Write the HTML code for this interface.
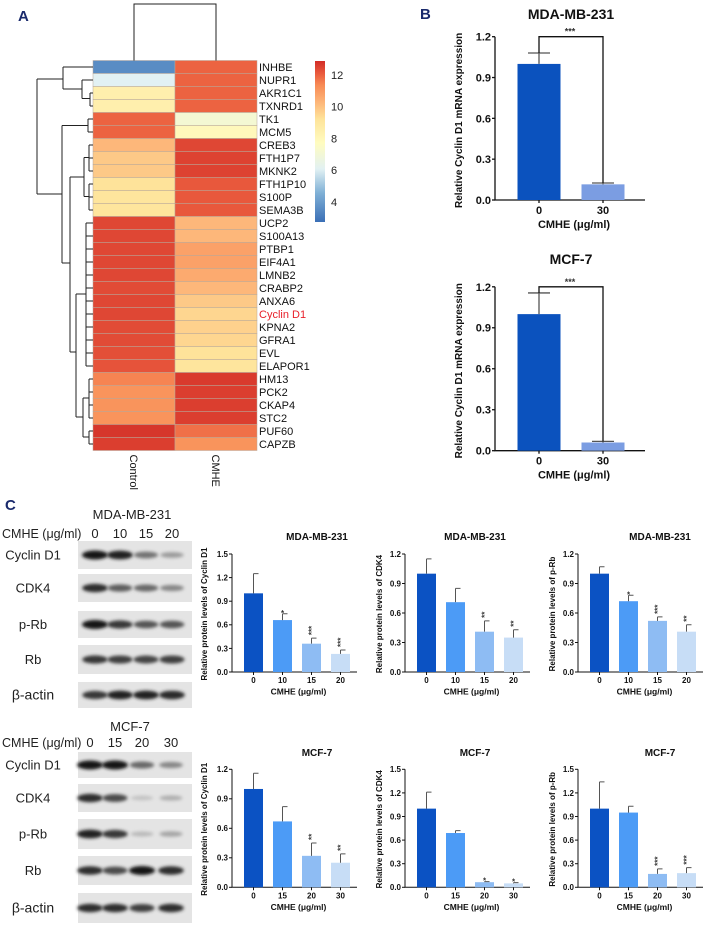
<!DOCTYPE html>
<html><head><meta charset="utf-8"><style>
html,body{margin:0;padding:0;background:#fff;}
svg{display:block;font-family:"Liberation Sans",Arial,sans-serif;}
</style></head><body>
<svg id="fig" width="708" height="928" viewBox="0 0 708 928" xmlns="http://www.w3.org/2000/svg">
<defs>
<linearGradient id="cbar" x1="0" y1="1" x2="0" y2="0">
<stop offset="0" stop-color="#3b6fb6"/><stop offset="0.18" stop-color="#7fb0d6"/><stop offset="0.33" stop-color="#e2f1f3"/><stop offset="0.49" stop-color="#fffcc0"/><stop offset="0.64" stop-color="#fee39a"/><stop offset="0.74" stop-color="#fdb77a"/><stop offset="0.85" stop-color="#f88b55"/><stop offset="0.92" stop-color="#ea5c3e"/><stop offset="1" stop-color="#d22d27"/>
</linearGradient>
<filter id="blur" x="-30%" y="-80%" width="160%" height="260%"><feGaussianBlur stdDeviation="1.6"/></filter>
</defs>
<text x="18" y="21" font-size="15" font-weight="bold" fill="#1a2a6c">A</text>
<text x="420" y="19" font-size="15" font-weight="bold" fill="#1a2a6c">B</text>
<text x="5" y="510" font-size="15" font-weight="bold" fill="#1a2a6c">C</text>
<g id="heat"></g>
<g id="bcharts"></g>
<g id="blots"></g>
<g id="ccharts"></g>
</svg>
<script>
// ---------- Heatmap data ----------
const genes = ['INHBE','NUPR1','AKR1C1','TXNRD1','TK1','MCM5','CREB3','FTH1P7','MKNK2','FTH1P10','S100P','SEMA3B','UCP2','S100A13','PTBP1','EIF4A1','LMNB2','CRABP2','ANXA6','Cyclin D1','KPNA2','GFRA1','EVL','ELAPOR1','HM13','PCK2','CKAP4','STC2','PUF60','CAPZB'];
const controlVals = [3.5,6,8.3,8.3,11.6,11.6,10,9.6,9.6,9,8.9,8.9,12.2,12.2,12.2,12.2,12.2,12.1,12.2,12.2,12.1,12.1,12,11.9,11.1,10.8,10.8,10.8,12.6,12.4];
const cmheVals = [11.6,11.6,11.6,11.6,7,7.8,12.2,12.3,12.3,11.8,11.8,11.8,10,10,10.5,10.5,10.3,10,9.6,9.3,9.4,9.3,9,8.9,12.5,12.4,12.4,12.4,11.4,10.8];
const colorbarTicks = [4,6,8,10,12];

// ---------- B data ----------
const bCats = ['0','30'];
const bMdaVals = [1.0,0.115];
const bMdaErr = [1.08,0.125];
const bMcfVals = [1.0,0.06];
const bMcfErr = [1.155,0.068];
const bTicks = [0,0.3,0.6,0.9,1.2];

// ---------- C data ----------
const cMdaCats = ['0','10','15','20'];
const cMcfCats = ['0','15','20','30'];
const ticks15 = [0,0.3,0.6,0.9,1.2,1.5];
const ticks12 = [0,0.3,0.6,0.9,1.2];
const mdaCycVals = [1.0,0.66,0.36,0.23];
const mdaCycErr = [1.25,0.74,0.43,0.28];
const mdaCycSig = ['','*','***','***'];
const mdaCdkVals = [1.0,0.71,0.41,0.35];
const mdaCdkErr = [1.15,0.85,0.52,0.43];
const mdaCdkSig = ['','','**','**'];
const mdaRbVals = [1.0,0.72,0.52,0.41];
const mdaRbErr = [1.07,0.78,0.56,0.48];
const mdaRbSig = ['','*','***','**'];
const mcfCycVals = [1.0,0.67,0.32,0.25];
const mcfCycErr = [1.16,0.82,0.45,0.34];
const mcfCycSig = ['','','**','**'];
const mcfCdkVals = [1.0,0.69,0.065,0.05];
const mcfCdkErr = [1.21,0.72,0.072,0.06];
const mcfCdkSig = ['','','*','*'];
const mcfRbVals = [1.0,0.95,0.17,0.18];
const mcfRbErr = [1.34,1.03,0.235,0.25];
const mcfRbSig = ['','','***','***'];

// ---------- Blot band intensities (0..1) ----------
const mdaBands = {cyc:[1,0.95,0.55,0.35], cdk:[0.9,0.65,0.6,0.45], prb:[1,0.85,0.7,0.7], rb:[0.85,0.8,0.78,0.8], act:[0.85,0.95,0.95,0.92]};
const mcfBands = {cyc:[1,1,0.6,0.45], cdk:[0.9,0.75,0.15,0.25], prb:[0.95,0.85,0.2,0.3], rb:[0.9,0.75,1,0.9], act:[0.9,0.9,0.8,0.9]};

const NS='http://www.w3.org/2000/svg';
function mk(tag, attrs, parent){const e=document.createElementNS(NS,tag);for(const k in attrs)e.setAttribute(k,attrs[k]);parent.appendChild(e);return e;}

const stops=[[2.7,[59,111,182]],[4.5,[127,176,214]],[6,[226,241,243]],[7.6,[255,252,192]],[9,[254,227,154]],[10,[253,183,122]],[11,[248,139,85]],[11.7,[234,92,62]],[12.8,[210,45,39]]];
function cmap(v){if(v<=stops[0][0])return 'rgb('+stops[0][1]+')';for(let i=1;i<stops.length;i++){if(v<=stops[i][0]){const a=stops[i-1],b=stops[i],t=(v-a[0])/(b[0]-a[0]);return 'rgb('+a[1].map((c,j)=>Math.round(c+(b[1][j]-c)*t)).join(',')+')';}}return 'rgb('+stops[stops.length-1][1]+')';}

// ---------- draw heatmap ----------
(function(){
const g=document.getElementById('heat');
const top=60.5,rh=13.0,x0=93,cw=82;
const rowY=i=>top+rh*i;
const cols=[controlVals,cmheVals];
cols.forEach((arr,c)=>{arr.forEach((v,i)=>{
 const r=mk('rect',{x:x0+c*cw,y:rowY(i),width:cw,height:rh,fill:cmap(v),stroke:'#b8a89a','stroke-width':0.5},g);
 
 
});});
genes.forEach((n,i)=>{
 const t=mk('text',{x:x0+2*cw+2,y:rowY(i)+rh/2+4,'font-size':11,fill:n==='Cyclin D1'?'#e8202a':'#111'},g);
 t.textContent=n;
 
 
});
['Control','CMHE'].forEach((n,c)=>{
 const t=mk('text',{x:0,y:0,'font-size':11,fill:'#111',transform:'translate('+(x0+c*cw+cw/2-4)+','+(top+30*rh+4)+') rotate(90)'},g);
 t.textContent=n;
 
 
});
const cd=mk('path',{d:'M134,60.5V4H216V60.5',fill:'none',stroke:'#222','stroke-width':1},g);


const c=i=>top+rh*(i+0.5);
let d='';
function leaves(a,b,x){d+='M'+x+','+c(a)+'V'+c(b);for(let i=a;i<=b;i++)d+='M'+x+','+c(i)+'H'+x0;}
d+='M37,79V194';
d+='M37,79H63M63,'+c(0)+'V89M63,'+c(0)+'H'+x0+'M63,89H82M82,'+c(1)+'V98.5M82,'+c(1)+'H'+x0+'M82,98.5H90';leaves(2,3,90);
d+='M37,194H62M62,'+c(4.5)+'V263M62,'+c(4.5)+'H88';leaves(4,5,88);
d+='M62,263H70M70,177V352M70,177H84M84,157.5V196.5M84,157.5H89';leaves(6,8,89);d+='M84,196.5H89';leaves(9,11,89);
d+='M70,352H76M76,294V417M76,294H86';leaves(12,23,86);d+='M76,417H83M83,398V437M83,398H89';leaves(24,27,89);d+='M83,437H89';leaves(28,29,89);
const rd=mk('path',{d:d,fill:'none',stroke:'#222','stroke-width':1},g);


const cbTop=61,cbBot=222,vTop=12.88,vBot=2.74;
const cb=mk('rect',{x:315,y:cbTop,width:10,height:cbBot-cbTop,fill:'url(#cbar)'},g);


colorbarTicks.forEach(v=>{
 const y=cbBot-(v-vBot)/(vTop-vBot)*(cbBot-cbTop);
 const t=mk('text',{x:331,y:y+4,'font-size':11,fill:'#222'},g);
 t.textContent=String(v);
 
 
});
})();

// ---------- generic bar chart ----------
function barChart(g,o){
 const ys=v=>o.y0-(v/o.vmax)*(o.y0-o.ytop);
 const ax=mk('path',{d:'M'+o.ax+','+(ys(o.vmax))+'V'+o.y0+'H'+o.axEnd,fill:'none',stroke:'#111','stroke-width':o.lw},g);
 
 
 o.ticks.forEach(v=>{
  const y=ys(v);
  const tk=mk('line',{x1:o.ax-3,x2:o.ax,y1:y,y2:y,stroke:'#111','stroke-width':o.lw},g);
  
  
  const t=mk('text',{x:o.ax-4,y:y+o.tfs*0.36,'font-size':o.tfs,'font-weight':'bold','text-anchor':'end',fill:'#111'},g);
  t.textContent=v.toFixed(1);
  
  
 });
 o.vals.forEach((v,i)=>{
  const cx=o.ax+o.off+i*o.step;
  const b=mk('rect',{x:cx-o.bw/2,y:ys(v),width:o.bw,height:o.y0-ys(v),fill:o.colors[i]},g);
  
  
  const e=mk('path',{d:'M'+cx+','+ys(v)+'V'+ys(o.err[i])+'M'+(cx-(o.symCap?o.cap:0))+','+ys(o.err[i])+'H'+(cx+o.cap),stroke:o.ecol,'stroke-width':o.lw,fill:'none'},g);
  
  
  const tk=mk('line',{x1:cx,x2:cx,y1:o.y0,y2:o.y0+3,stroke:'#111','stroke-width':o.lw},g);
  
  
  const t=mk('text',{x:cx,y:o.y0+o.tfs+3,'font-size':o.tfs,'font-weight':'bold','text-anchor':'middle',fill:'#111'},g);
  t.textContent=o.cats[i];
  
  
  if(o.sig&&o.sig[i]){
   const sy=ys(o.err[i])-3;
   const s=mk('text',{'font-size':8,fill:'#333','font-weight':'bold'},g);
   if(o.sig[i].length>1){s.setAttribute('transform','translate('+(cx+3)+','+sy+') rotate(-90)');s.setAttribute('x',0);s.setAttribute('y',0);}
   else{s.setAttribute('x',cx);s.setAttribute('y',sy+5);s.setAttribute('text-anchor','middle');}
   s.textContent=o.sig[i];
   
   
  }
 });
 const xl=mk('text',{x:(o.ax+o.axEnd)/2+4,y:o.y0+o.tfs+3+o.xfs+3,'font-size':o.xfs,'font-weight':'bold','text-anchor':'middle',fill:'#111'},g);
 xl.textContent='CMHE (μg/ml)';
 
 
 const yl=mk('text',{x:0,y:0,'font-size':o.yfs,'font-weight':'bold','text-anchor':'middle',fill:'#111',transform:'translate('+o.ylx+','+o.yly+') rotate(-90)'},g);
 yl.textContent=o.ylabel;
 
 
 const ti=mk('text',{x:o.tx,y:o.ty,'font-size':o.titfs,'font-weight':'bold','text-anchor':'middle',fill:'#111'},g);
 ti.textContent=o.title;
 
 
 return ys;
}

// ---------- B ----------
(function(){
 const g=document.getElementById('bcharts');
 const defs=[{name:'mda-mrna',title:'MDA-MB-231',vals:bMdaVals,err:bMdaErr,y0:200,ytop:36.7,ty:19},{name:'mcf-mrna',title:'MCF-7',vals:bMcfVals,err:bMcfErr,y0:450.7,ytop:286.8,ty:264}];
 defs.forEach(d=>{
  const sg=mk('g',{},g);
  
  
  const ys=barChart(sg,{name:d.name,vals:d.vals,err:d.err,cats:bCats,ticks:bTicks,vmax:1.2,y0:d.y0,ytop:d.ytop,ax:495,axEnd:645,off:44,step:64,bw:43,colors:['#0b52be','#7b9de2'],ecol:'#555',cap:11,symCap:true,lw:1.3,tfs:11,xfs:11,yfs:10,ylx:462,yly:(d.y0+d.ytop)/2+2,ylabel:'Relative Cyclin D1 mRNA expression',tx:571,ty:d.ty,title:d.title,titfs:14});
  const br=mk('path',{d:'M539,'+ys(d.err[0])+'V'+ys(1.2)+'H603V'+ys(d.err[1]),fill:'none',stroke:'#111','stroke-width':1.3},sg);
  
  
  const st=mk('text',{x:570,y:ys(1.2)-2,'font-size':9,'font-weight':'bold','text-anchor':'middle',fill:'#333'},sg);
  st.textContent='***';
  
  
 });
})();

// ---------- C charts ----------
(function(){
 const g=document.getElementById('ccharts');
 const colors=['#0b52c3','#4c9bf6','#8ebcf3','#c7ddf6'];
 const rows=[
  {cats:cMdaCats,y0:672,ty:540,title:'MDA-MB-231',charts:[
   {name:'mda-cyclin',vals:mdaCycVals,err:mdaCycErr,sig:mdaCycSig,ticks:ticks15,vmax:1.5,ax:232,yl:'Cyclin D1',ylx:207,tx:317},
   {name:'mda-cdk4',vals:mdaCdkVals,err:mdaCdkErr,sig:mdaCdkSig,ticks:ticks12,vmax:1.2,ax:405,yl:'CDK4',ylx:382,tx:475},
   {name:'mda-prb',vals:mdaRbVals,err:mdaRbErr,sig:mdaRbSig,ticks:ticks12,vmax:1.2,ax:578,yl:'p-Rb',ylx:555,tx:660}]},
  {cats:cMcfCats,y0:887.3,ty:756,title:'MCF-7',charts:[
   {name:'mcf-cyclin',vals:mcfCycVals,err:mcfCycErr,sig:mcfCycSig,ticks:ticks12,vmax:1.2,ax:232,yl:'Cyclin D1',ylx:207,tx:317},
   {name:'mcf-cdk4',vals:mcfCdkVals,err:mcfCdkErr,sig:mcfCdkSig,ticks:ticks15,vmax:1.5,ax:405,yl:'CDK4',ylx:382,tx:475},
   {name:'mcf-prb',vals:mcfRbVals,err:mcfRbErr,sig:mcfRbSig,ticks:ticks15,vmax:1.5,ax:578,yl:'p-Rb',ylx:555,tx:660}]}
 ];
 rows.forEach(r=>{r.charts.forEach(c=>{
  const sg=mk('g',{},g);
  
  
  const ytop=r.y0-118;
  barChart(sg,{name:c.name,vals:c.vals,err:c.err,sig:c.sig,cats:r.cats,ticks:c.ticks,vmax:c.vmax,y0:r.y0,ytop:ytop,ax:c.ax,axEnd:c.ax+125,off:21.5,step:29,bw:19,colors:colors,ecol:'#555',cap:5,symCap:false,lw:1,tfs:8,xfs:8.5,yfs:8,ylx:c.ylx,yly:r.y0-58,ylabel:'Relative protein levels of '+c.yl,tx:c.tx,ty:r.ty,title:r.title,titfs:10});
 });});
})();

// ---------- Blots ----------
(function(){
 const g=document.getElementById('blots');
 const labels=['Cyclin D1','CDK4','p-Rb','Rb','β-actin'];
 const keys=['cyc','cdk','prb','rb','act'];
 const sets=[
  {name:'mda',title:'MDA-MB-231',tx:132,ty:519,hy:538,lanes:[95,120,146,172],doses:['0','10','15','20'],bands:mdaBands,boxes:[[541,569],[574,602],[611,638],[645,674],[682,708]]},
  {name:'mcf',title:'MCF-7',tx:130,ty:731,hy:747,lanes:[90,115,142,171],doses:['0','15','20','30'],bands:mcfBands,boxes:[[752,778],[784,812],[819,849],[856,885],[893,923]]}
 ];
 sets.forEach(s=>{
  const t=mk('text',{x:s.tx,y:s.ty,'font-size':13,'text-anchor':'middle',fill:'#222'},g);
  t.textContent=s.title;
  
  
  const h=mk('text',{x:2,y:s.hy,'font-size':12.5,fill:'#222'},g);
  h.textContent='CMHE (μg/ml)';
  
  
  s.doses.forEach((d,i)=>{
   const dt=mk('text',{x:s.lanes[i],y:s.hy,'font-size':13,'text-anchor':'middle',fill:'#222'},g);
   dt.textContent=d;
   
   
  });
  s.boxes.forEach((b,k)=>{
   const bx=mk('rect',{x:78,y:b[0],width:114,height:b[1]-b[0],fill:'#e4e4e4'},g);
   
   
   const lb=mk('text',{x:33,y:(b[0]+b[1])/2+4.5,'font-size':k===4?14:13,'text-anchor':'middle',fill:'#222'},g);
   lb.textContent=labels[k];
   
   
   s.bands[keys[k]].forEach((v,i)=>{
    const gr=Math.round(225-200*v);
    const e=mk('ellipse',{cx:s.lanes[i],cy:(b[0]+b[1])/2,rx:11+2*v,ry:2+2.5*v,fill:'rgb('+gr+','+gr+','+gr+')',filter:'url(#blur)'},g);
    
    
   });
  });
 });
})();
</script>
</body></html>
